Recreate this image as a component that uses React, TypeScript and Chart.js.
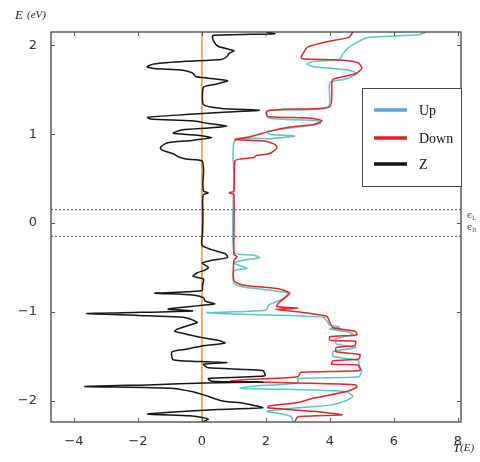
import { useEffect, useRef } from "react";
import { Chart, registerables } from "chart.js";
Chart.register(...registerables);

const xTicks = [-4, -2, 0, 2, 4, 6, 8];
const yTicks = [-2, -1, 0, 1, 2];
const X_MIN = -4.72;
const X_MAX = 8.1;
const Y_MIN = -2.24;
const Y_MAX = 2.15;
const fermiLevels = [0.15, -0.15];
const seriesLabels = ["Up", "Down", "Z"];
const lineColors = ["#5cc6c6", "#e3262b", "#151515"];
const legendColors = ["#5aa2da", "#e01f26", "#111111"];

// Z (black): energy E and T(E)
const zE = [2.15, 2.13, 2.11, 2.06, 1.99, 1.94, 1.91, 1.88, 1.84, 1.82, 1.79, 1.76, 1.74, 1.72, 1.69, 1.65, 1.63, 1.6, 1.56, 1.53, 1.33, 1.29, 1.27, 1.25, 1.22, 1.19, 1.17, 1.15, 1.12, 1.09, 1.07, 1.05, 1.01, 0.99, 0.96, 0.93, 0.9, 0.85, 0.82, 0.78, 0.74, 0.72, 0.7, 0.6, 0.45, 0.36, 0.34, 0.32, 0.25, 0.1, -0.1, -0.25, -0.3, -0.35, -0.39, -0.42, -0.45, -0.5, -0.53, -0.56, -0.6, -0.63, -0.7, -0.76, -0.78, -0.79, -0.81, -0.84, -0.88, -0.91, -0.93, -0.96, -0.97, -0.99, -1.01, -1.02, -1.04, -1.06, -1.09, -1.12, -1.15, -1.2, -1.22, -1.25, -1.29, -1.32, -1.35, -1.38, -1.42, -1.45, -1.54, -1.56, -1.57, -1.59, -1.63, -1.66, -1.72, -1.75, -1.78, -1.79, -1.8, -1.82, -1.84, -1.86, -1.9, -1.94, -2.0, -2.03, -2.06, -2.08, -2.1, -2.13, -2.15, -2.17, -2.19, -2.21, -2.24];
const zT = [2.0, 2.28, 0.34, 0.35, 0.5, 1.0, 0.85, 0.8, 0.6, -0.5, -1.5, -1.72, -1.5, -0.6, -0.3, -0.2, 0.2, 0.8, 0.4, 0.05, 0.05, 0.6, 1.8, 0.8, -0.5, -1.7, -1.6, -0.3, 0.2, 0.78, 0.2, -0.6, -0.9, -0.2, 0.3, -0.3, -1.1, -1.3, -1.25, -0.9, -0.7, -0.5, 0.0, 0.05, 0.03, 0.05, 0.2, 0.05, 0.02, 0.03, 0.02, 0.0, 0.3, 0.75, 0.8, 0.3, 0.0, 0.2, 0.1, -0.15, -0.28, 0.05, 0.02, 0.0, -0.8, -1.47, -0.3, 0.05, 0.1, 0.4, -0.1, -0.9, -1.06, -0.3, -2.5, -3.6, -2.0, -0.6, -0.3, -0.15, -0.4, -0.8, -0.85, -0.5, 0.0, 0.5, 0.72, 0.1, -0.5, -0.94, -0.9, 0.0, 0.78, 0.05, 0.2, 1.9, 1.97, 0.2, 0.3, 1.9, 0.1, -1.5, -3.66, -1.0, -0.28, 0.1, 0.6, 1.3, 1.7, 1.9, 0.5, -1.0, -1.7, -0.4, 0.0, 0.2, 0.0];

// Down (red)
const downE = [2.15, 2.09, 2.04, 1.98, 1.93, 1.87, 1.85, 1.83, 1.8, 1.74, 1.68, 1.62, 1.58, 1.31, 1.28, 1.26, 1.2, 1.18, 1.15, 1.11, 1.08, 1.04, 0.97, 0.94, 0.92, 0.88, 0.84, 0.78, 0.76, 0.74, 0.72, 0.7, 0.36, 0.34, 0.32, -0.35, -0.38, -0.42, -0.65, -0.7, -0.74, -0.79, -0.84, -0.9, -0.94, -0.96, -0.97, -1.0, -1.05, -1.12, -1.18, -1.22, -1.26, -1.28, -1.32, -1.33, -1.38, -1.4, -1.45, -1.48, -1.53, -1.55, -1.59, -1.6, -1.66, -1.68, -1.73, -1.76, -1.78, -1.8, -1.82, -1.85, -1.9, -1.97, -2.02, -2.06, -2.08, -2.12, -2.16, -2.18, -2.24];
const downT = [4.72, 4.6, 3.9, 3.3, 3.2, 3.1, 3.15, 4.5, 4.9, 5.0, 4.8, 4.1, 4.06, 4.0, 2.5, 2.03, 2.05, 3.4, 3.75, 3.5, 2.75, 2.2, 1.5, 1.03, 2.0, 2.3, 2.34, 2.1, 1.7, 1.65, 1.2, 1.03, 1.0, 0.85, 1.0, 1.0, 1.1, 1.0, 1.0, 1.3, 2.4, 2.75, 2.6, 2.4, 2.34, 3.0, 2.3, 3.0, 3.9, 4.0, 4.1, 4.8, 4.84, 4.0, 4.0, 4.8, 4.78, 4.2, 4.2, 4.94, 4.9, 4.1, 4.06, 4.9, 4.94, 3.1, 3.0, 1.5, 0.9, 3.0, 4.8, 4.84, 4.5, 3.5, 3.0, 2.1, 2.06, 3.5, 4.38, 3.0, 2.9];

// Up (cyan)
const upE = [2.15, 2.12, 2.09, 2.05, 1.98, 1.9, 1.84, 1.82, 1.79, 1.76, 1.72, 1.68, 1.62, 1.58, 1.3, 1.27, 1.24, 1.18, 1.15, 1.12, 1.08, 1.03, 1.0, 0.98, 0.95, 0.93, 0.5, -0.33, -0.36, -0.39, -0.42, -0.45, -0.48, -0.51, -0.54, -0.68, -0.72, -0.76, -0.79, -0.86, -0.92, -0.98, -1.0, -1.01, -1.03, -1.06, -1.1, -1.15, -1.17, -1.19, -1.23, -1.26, -1.3, -1.36, -1.4, -1.45, -1.5, -1.55, -1.62, -1.66, -1.73, -1.75, -1.8, -1.84, -1.86, -1.88, -1.9, -1.95, -2.0, -2.05, -2.08, -2.12, -2.15, -2.18, -2.24];
const upT = [7.0, 6.8, 5.2, 4.94, 4.6, 4.4, 4.3, 3.5, 3.28, 3.5, 4.6, 4.84, 4.5, 4.0, 3.95, 2.1, 2.0, 2.1, 3.6, 3.7, 3.0, 2.03, 2.1, 2.9, 2.2, 1.03, 1.0, 1.0, 1.6, 1.8, 1.3, 1.0, 1.2, 1.4, 1.0, 1.0, 1.3, 2.2, 2.7, 2.5, 2.1, 2.0, 1.0, 0.15, 1.5, 3.8, 3.9, 4.0, 4.3, 4.0, 4.6, 4.72, 4.2, 4.2, 4.8, 4.1, 4.1, 4.9, 4.9, 5.0, 4.9, 3.0, 3.0, 1.5, 1.2, 3.5, 4.5, 4.72, 4.5, 4.0, 3.0, 2.03, 2.5, 2.8, 2.84];

const toPts = (E: number[], T: number[]) => E.map((e, i) => ({ x: T[i], y: e }));
const fmt = (v: number) => (v < 0 ? "\u2212" + Math.abs(v) : String(v));

const framePlugin = {
  id: "frame",
  afterDraw(chart: any) {
    const { ctx, chartArea: a, scales } = chart;
    ctx.save();
    ctx.strokeStyle = "#333";
    ctx.lineWidth = 1.2;
    ctx.strokeRect(a.left, a.top, a.right - a.left, a.bottom - a.top);
    ctx.lineWidth = 1;
    ctx.strokeStyle = "#555";
    ctx.beginPath();
    xTicks.forEach((t) => {
      const px = Math.round(scales.x.getPixelForValue(t)) + 0.5;
      ctx.moveTo(px, a.bottom);
      ctx.lineTo(px, a.bottom - 4);
      ctx.moveTo(px, a.top);
      ctx.lineTo(px, a.top + 4);
    });
    yTicks.forEach((t) => {
      const py = Math.round(scales.y.getPixelForValue(t)) + 0.5;
      ctx.moveTo(a.left, py);
      ctx.lineTo(a.left + 4, py);
      ctx.moveTo(a.right, py);
      ctx.lineTo(a.right - 4, py);
    });
    ctx.stroke();

    // legend
    const lx = 362, ly = 88, lw = a.right - 362, lh = 98;
    ctx.fillStyle = "#fff";
    ctx.fillRect(lx, ly, lw, lh);
    ctx.strokeStyle = "#444";
    ctx.lineWidth = 1;
    ctx.strokeRect(lx + 0.5, ly + 0.5, lw, lh);
    const rows = [110, 138, 164];
    seriesLabels.forEach((lab, i) => {
      ctx.strokeStyle = legendColors[i];
      ctx.lineWidth = 3.5;
      ctx.beginPath();
      ctx.moveTo(374, rows[i]);
      ctx.lineTo(407, rows[i]);
      ctx.stroke();
      ctx.fillStyle = "#111";
      ctx.font = "14px 'Liberation Serif', serif";
      ctx.textBaseline = "middle";
      ctx.textAlign = "left";
      ctx.fillText(lab, 419, rows[i] + 1);
    });

    // axis titles
    ctx.fillStyle = "#222";
    ctx.font = "italic 13px 'Liberation Serif', serif";
    ctx.textBaseline = "alphabetic";
    ctx.fillText("E", 15, 19);
    ctx.font = "italic 11px 'Liberation Serif', serif";
    ctx.fillText("(eV)", 27, 18);
    ctx.font = "italic 13px 'Liberation Serif', serif";
    ctx.fillText("T", 453, 452);
    ctx.font = "italic 11px 'Liberation Serif', serif";
    ctx.fillText("(E)", 460, 451);

    // epsilon labels
    ctx.font = "9px 'DejaVu Serif', serif";
    ctx.fillStyle = "#444";
    ctx.fillText("\u03f5", 467, 218);
    ctx.fillText("\u03f5", 467, 230);
    ctx.font = "6px 'DejaVu Serif', serif";
    ctx.fillText("L", 472, 220);
    ctx.fillText("R", 472, 232);
    ctx.restore();
  },
};

export default function App() {
  const ref = useRef<HTMLCanvasElement | null>(null);
  useEffect(() => {
    document.body.style.margin = "0";
    const canvas = ref.current!;
    const refLine = (pts: any[], color: string, dash: number[], w: number) => ({
      data: pts,
      borderColor: color,
      borderWidth: w,
      borderDash: dash,
      pointRadius: 0,
      showLine: true,
      fill: false,
    });
    const curve = (label: string, pts: any[], color: string) => ({
      label,
      data: pts,
      borderColor: color,
      borderWidth: 1.5,
      pointRadius: 0,
      showLine: true,
      tension: 0.2,
    });
    const chart = new Chart(canvas, {
      type: "scatter",
      data: {
        datasets: [
          curve(seriesLabels[2], toPts(zE, zT), lineColors[2]),
          curve(seriesLabels[1], toPts(downE, downT), lineColors[1]),
          curve(seriesLabels[0], toPts(upE, upT), lineColors[0]),
          refLine([{ x: 0, y: Y_MIN }, { x: 0, y: Y_MAX }], "#e9a232", [], 1.6),
          ...fermiLevels.map((f) => refLine([{ x: X_MIN, y: f }, { x: X_MAX, y: f }], "#555", [2, 2], 1)),
        ] as any,
      },
      options: {
        animation: false,
        responsive: false,
        maintainAspectRatio: false,
        layout: { padding: { left: 0, right: 19, top: 32, bottom: 0 } },
        plugins: { legend: { display: false }, tooltip: { enabled: false } },
        scales: {
          x: {
            type: "linear",
            min: X_MIN,
            max: X_MAX,
            grid: { display: false },
            border: { display: false },
            afterFit: (s: any) => { s.height = 40; },
            afterBuildTicks: (s: any) => { s.ticks = xTicks.map((v) => ({ value: v })); },
            ticks: { includeBounds: false, padding: 4, color: "#333", font: { family: "'DejaVu Sans', sans-serif", size: 13 }, callback: (v: any) => fmt(Number(v)), maxRotation: 0 },
          },
          y: {
            type: "linear",
            min: Y_MIN,
            max: Y_MAX,
            grid: { display: false },
            border: { display: false },
            afterFit: (s: any) => { s.width = 51; },
            afterBuildTicks: (s: any) => { s.ticks = yTicks.map((v) => ({ value: v })); },
            ticks: { includeBounds: false, padding: 6, color: "#333", font: { family: "'DejaVu Sans', sans-serif", size: 13 }, callback: (v: any) => fmt(Number(v)) },
          },
        },
      },
      plugins: [framePlugin],
    });
    return () => chart.destroy();
  }, []);
  return <canvas ref={ref} width={480} height={462} style={{ display: "block" }} />;
}
